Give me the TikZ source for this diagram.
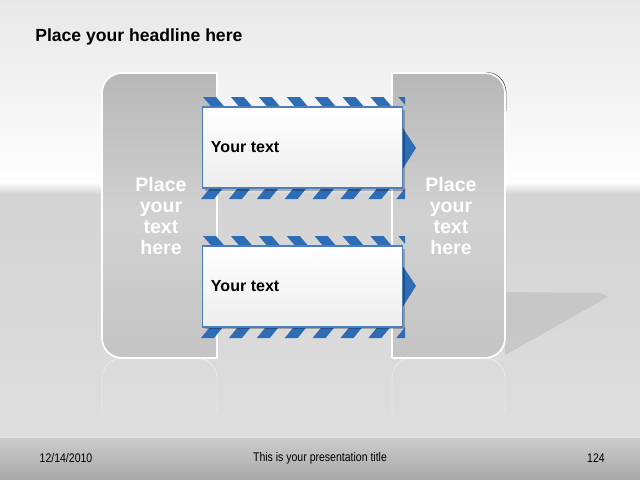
\documentclass[tikz,border=0pt]{standalone}
\usepackage{fontspec}
\setmainfont{Liberation Sans}
\usetikzlibrary{positioning}
\definecolor{stripeblue}{HTML}{2E6CB6}
\definecolor{boxline}{HTML}{4A7EBF}
\tikzset{
  panel/.style={top color=black!28, bottom color=black!23, middle color=black!18, draw=white, line width=1.2pt, rounded corners=0.5cm},
  textbox/.style={rectangle, draw=boxline, line width=1.1pt, top color=white, bottom color=black!7, minimum width=5cm, minimum height=2.025cm, inner sep=0pt},
  boxtext/.style={font=\fontsize{11.4pt}{13pt}\selectfont\bfseries, inner sep=0pt},
  paneltext/.style={font=\fontsize{13.9pt}{14.9pt}\selectfont\bfseries, text=white, align=center, inner sep=0pt},
  foot/.style={font=\fontsize{8.9pt}{10pt}\selectfont, xscale=0.84, inner sep=0pt},
  mirror/.style={draw=white, opacity=0.35, line width=0.7pt, rounded corners=0.5cm}
}
\newcommand{\scenebg}{%
  \shade[top color=black!9, bottom color=white] (0,0) rectangle (640,192);
  \shade[top color=black!17, bottom color=black!13] (0,192) rectangle (640,437);
  \shade[top color=white, bottom color=black!17] (0,182) rectangle (640,194);
}
\begin{document}
\begin{tikzpicture}[x=0.025cm,y=-0.025cm]
\useasboundingbox (0,0) rectangle (640,480);
% background
\scenebg
\shade[top color=black!20, bottom color=black!34] (0,437) rectangle (640,480);
\draw[black!12, line width=0.8pt] (0,437) -- (640,437);
\node[font=\fontsize{12.5pt}{14pt}\selectfont\bfseries, anchor=west, inner sep=0pt] (headline) at (35,37) {Place your headline here};

% shadow of the right panel on the floor
\fill[black, opacity=0.08] (505,292) -- (600,293) -- (608,297) -- (505,355) -- cycle;

% reflection
\begin{scope}
\clip (95,358) rectangle (515,412);
\path[mirror] (102,358) rectangle (217,470);
\path[mirror] (392,358) rectangle (505,470);
\end{scope}

% panels
\begin{scope}
\clip (440,60) rectangle (515,110);
\fill[black!70, rounded corners=0.5cm] (372,72) rectangle (506.3,357);
\end{scope}
\path[panel] (102,73) rectangle (240,358);
\path[panel] (370,73) rectangle (505,358);
\begin{scope}
\clip (217,72) rectangle (392,359);
\scenebg
\end{scope}
\draw[white, line width=1.2pt] (217,73) -- (217,358);
\draw[white, line width=1.2pt] (392,73) -- (392,358);
\node[paneltext] (lefttext) at (161,216) {Place\\your\\text\\here};
\node[paneltext] (righttext) at (451,216) {Place\\your\\text\\here};

% striped bands and arrow tips
\begin{scope}
\clip (201,90) rectangle (405,345);
\foreach \y in {97,236} {
  \foreach \i in {0,...,7} {
    \fill[stripeblue] (203+\i*27.9,\y) -- ++(13,0) -- ++(9,10.5) -- ++(-13,0) -- cycle;
    \fill[stripeblue] (201+\i*27.9,\y+102) -- ++(13,0) -- ++(9,-11) -- ++(-13,0) -- cycle;
  }
}
\end{scope}
\fill[stripeblue] (402,127) -- (416,148) -- (402,170) -- cycle;
\fill[stripeblue] (402,265) -- (416,286) -- (402,308) -- cycle;

% text boxes
\fill[black, opacity=0.25] (205,110) rectangle (405,191);
\fill[black, opacity=0.25] (205,249) rectangle (405,329);
\node[textbox] (box1) at (302.5,147.5) {};
\node[textbox] (box2) at (302.5,286.5) {};
\node[boxtext, right=0.225cm of box1.west, anchor=west] (text1) {Your text};
\node[boxtext, right=0.225cm of box2.west, anchor=west] (text2) {Your text};

% footer
\node[foot] (date) at (66,458) {12/14/2010};
\node[foot] (title) at (320,458) {This is your presentation title};
\node[foot] (page) at (596,458) {124};
\end{tikzpicture}
\end{document}
